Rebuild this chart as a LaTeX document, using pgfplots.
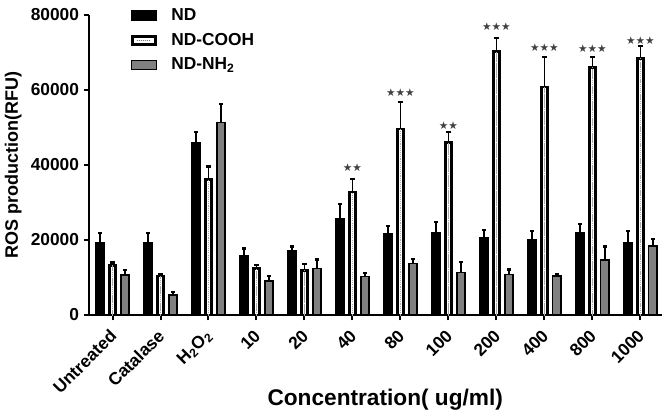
\documentclass[border=0pt]{standalone}
\usepackage{fontspec}
\setmainfont{Liberation Sans}
\newfontfamily\starfont{DejaVu Sans}
\usepackage{pgfplots}
\usepackage{pgfplotstable}
\pgfplotsset{compat=1.18}
\definecolor{ndgray}{RGB}{128,128,128}

% x ND NDe COOH COOHe NH2 NH2e (RFU, upper error only)
\pgfplotstableread{
x  nd    nde  cooh  coohe nh   nhe
0  19300 2650 13100 900   10700 1300
1  19300 2650 10400 500   5300  800
2  46000 2900 36200 3400  51400 4800
3  15800 1950 12400 900   9100  1300
4  17100 1150 11900 1600  12400 2400
5  25700 3900 32800 3500  10300 800
6  21600 2200 49600 7200  13700 1150
7  22000 2700 46000 2750  11400 2750
8  20600 2150 70200 3750  10800 1350
9  20100 2400 60800 8100  10400 550
10 22000 2250 66000 2750  14700 3550
11 19200 3100 68400 3300  18400 1900
}\ros

\def\px{0.75pt}

\begin{document}
\begin{tikzpicture}
\begin{axis}[
  name=ax,
  scale only axis,
  width=429.75pt, height=225pt,
  ybar,
  xmin=-0.49, xmax=11.45,
  ymin=0, ymax=80000,
  axis lines=left,
  axis line style={line width=1.5pt,-},
  xtick={0,...,11},
  xticklabels={Untreated,Catalase,H\textsubscript{2}O\textsubscript{2},10,20,40,80,100,200,400,800,1000},
  ytick={0,20000,40000,60000,80000},
  scaled y ticks=false,
  /pgf/number format/1000 sep={},
  /pgf/number format/assume math mode=true,
  tick align=outside,
  major tick length=4pt,
  tick style={black,line width=1.5pt},
  ticklabel style={font=\bfseries\fontsize{13}{13}\selectfont},
  xticklabel style={xshift=3pt,yshift=-7pt,rotate=45,anchor=east},
  ylabel={ROS production(RFU)},
  ylabel style={font=\bfseries\fontsize{13.5}{14}\selectfont},
  xlabel={Concentration( ug/ml)},
  xlabel style={font=\bfseries\fontsize{17}{18}\selectfont,at={(rel axis cs:0.517,-0.283)},anchor=center},
  error bars/y dir=plus,
  error bars/y explicit,
  error bars/error bar style={black,line width=1.2pt},
  error bars/error mark options={rotate=90,mark size=1.6pt,line width=1.6pt,black},
  legend style={draw=none,fill=none,at={(rel axis cs:0.065,1.04)},anchor=north west,
    font=\bfseries\fontsize{13}{13}\selectfont,row sep=4pt},
  legend cell align=left,
  legend image code/.code={\draw[#1,bar width=0pt,bar shift=0pt] (0pt,-3.5pt) rectangle (19pt,3.5pt);
    \path (27pt,0pt);},
]
\addplot[fill=black,draw=black,line width=1pt,bar width=0.17,bar shift=-0.26]
  table[x=x,y=nd,y error=nde]{\ros};
\addlegendentry{ND}
\addplot[fill=white,draw=black,line width=2.2pt,bar width=0.14,bar shift=0,
  legend image code/.code={\draw[black,line width=2.2pt,fill=white] (0.8pt,-3pt) rectangle (18.2pt,3pt);
    \draw[gray,densely dotted,line width=0.6pt] (4pt,0pt) -- (15pt,0pt);
    \path (27pt,0pt);}]
  table[x=x,y=cooh,y error=coohe]{\ros};
\addlegendentry{ND-COOH}
\addplot[fill=ndgray,draw=black,line width=1pt,bar width=0.17,bar shift=0.26]
  table[x=x,y=nh,y error=nhe]{\ros};
\addlegendentry{ND-NH\textsubscript{2}}
% dotted centre line of the ND-COOH bars
\addplot[draw=gray!70,densely dotted,line width=0.6pt,fill=none,bar width=0.001,bar shift=0,forget plot]
  table[x=x,y=cooh]{\ros};
% significance marks
\begin{scope}[every node/.style={font=\starfont\fontsize{8}{8}\selectfont,text=black!75,inner sep=0pt}]
\node at (axis cs:5,39200) {★★};
\node at (axis cs:6,59200) {★★★};
\node at (axis cs:7,50500) {★★};
\node at (axis cs:8,77000) {★★★};
\node at (axis cs:9,71200) {★★★};
\node at (axis cs:10,71100) {★★★};
\node at (axis cs:11,73100) {★★★};
\end{scope}
\end{axis}
\pgfresetboundingbox
\path[use as bounding box] ([xshift=-89*\px,yshift=-103*\px]ax.south west) rectangle ([xshift=4*\px,yshift=15*\px]ax.north east);
\end{tikzpicture}
\end{document}
